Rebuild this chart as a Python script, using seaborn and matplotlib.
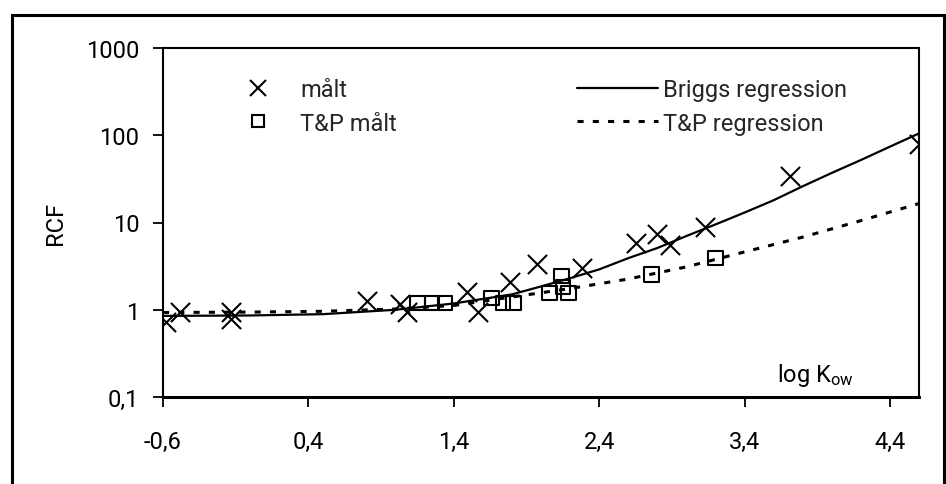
import matplotlib
matplotlib.use("Agg")
import matplotlib.pyplot as plt
import seaborn as sns
import numpy as np
import pandas as pd
from matplotlib.lines import Line2D
from matplotlib.patches import Rectangle
from matplotlib.ticker import FixedLocator, FuncFormatter, NullLocator

# ---- data ----
maalt_x = [-0.58, -0.48, -0.13, -0.13, 0.80, 1.03, 1.08, 1.49, 1.57, 1.79, 1.97,
           2.28, 2.65, 2.80, 2.89, 3.13, 3.71, 4.60]
maalt_y = [0.73, 0.95, 0.93, 0.78, 1.27, 1.17, 0.95, 1.61, 0.95, 2.09, 3.35,
           3.0, 5.8, 7.4, 5.5, 8.9, 34.0, 80.0]

tp_maalt_x = [1.15, 1.25, 1.34, 1.66, 1.74, 1.81, 2.06, 2.14, 2.15, 2.19, 2.76, 3.20]
tp_maalt_y = [1.20, 1.20, 1.20, 1.37, 1.20, 1.20, 1.55, 2.45, 1.83, 1.55, 2.55, 3.9]

briggs_x = [-0.6, 0.0, 0.5, 1.0, 1.4, 1.8, 2.0, 2.2, 2.4, 2.6, 2.8, 3.0, 3.2,
            3.4, 3.6, 3.8, 4.0, 4.2, 4.4, 4.6]
briggs_y = [0.85, 0.86, 0.89, 1.0, 1.18, 1.5, 1.85, 2.3, 2.9, 3.9, 5.1, 7.0, 9.5,
            13.0, 18.0, 26.0, 37.0, 52.0, 74.0, 105.0]

tp_reg_x = [-0.6, 0.0, 0.5, 1.0, 1.4, 1.8, 2.2, 2.6, 3.0, 3.4, 3.8, 4.2, 4.6]
tp_reg_y = [0.93, 0.94, 0.96, 1.02, 1.12, 1.4, 1.75, 2.25, 3.1, 4.6, 6.8, 10.5, 16.5]

x_ticks = [-0.6, 0.4, 1.4, 2.4, 3.4, 4.4]
y_ticks = [0.1, 1, 10, 100, 1000]
y_tick_labels = ["0,1", "1", "10", "100", "1000"]

labels = ["målt", "T&P målt", "Briggs regression", "T&P regression"]

# ---- style ----
sns.set_theme(style="white")
plt.rcParams["font.family"] = ["Roboto", "DejaVu Sans"]
plt.rcParams["mathtext.default"] = "regular"
plt.rcParams["mathtext.fontset"] = "custom"
plt.rcParams["mathtext.rm"] = "Roboto"
FS = 17

fig = plt.figure(figsize=(9.46, 4.85), dpi=100)
ax = fig.add_axes([163/946, 1-398/485, (919-163)/946, (398-49)/485])

df_m = pd.DataFrame({"x": maalt_x, "y": maalt_y})
df_t = pd.DataFrame({"x": tp_maalt_x, "y": tp_maalt_y})
df_b = pd.DataFrame({"x": briggs_x, "y": briggs_y})
df_r = pd.DataFrame({"x": tp_reg_x, "y": tp_reg_y})

sns.lineplot(data=df_b, x="x", y="y", ax=ax, color="black", lw=1.6,
             estimator=None, sort=False, zorder=2)
sns.lineplot(data=df_r, x="x", y="y", ax=ax, color="black", lw=2.2,
             linestyle=(0, (2, 3)), estimator=None, sort=False, zorder=2)
sns.scatterplot(data=df_m, x="x", y="y", ax=ax, marker="x", s=190,
                color="black", linewidth=1.5, zorder=3)
sns.scatterplot(data=df_t, x="x", y="y", ax=ax, marker="s", s=110,
                facecolor="none", edgecolor="black", linewidth=1.5, zorder=3)

ax.set_yscale("log")
ax.set_xlim(-0.6, 4.6)
ax.set_ylim(0.1, 1000)
ax.xaxis.set_major_locator(FixedLocator(x_ticks))
ax.xaxis.set_major_formatter(FuncFormatter(lambda v, p: f"{v:.1f}".replace(".", ",")))
ax.yaxis.set_major_locator(FixedLocator(y_ticks))
ax.set_yticklabels(y_tick_labels)
ax.yaxis.set_minor_locator(NullLocator())
ax.tick_params(axis="both", direction="out", length=7, width=1.3, color="black",
               labelsize=FS, labelcolor="black", bottom=True, left=True)
ax.tick_params(axis="x", pad=17)
ax.tick_params(axis="y", pad=10)
for s in ax.spines.values():
    s.set_visible(True)
    s.set_color("black")
    s.set_linewidth(1.5)
ax.spines["bottom"].set_linewidth(2.2)

ax.set_xlabel("")
ax.set_ylabel("RCF", fontsize=FS, color="black", labelpad=14)

ax.text(0.812, 0.065, r"log K$_{ow}$", transform=ax.transAxes, fontsize=FS,
        ha="left", va="center", color="black")

h_marks = [
    Line2D([], [], marker="x", color="black", linestyle="none", markersize=12, markeredgewidth=1.5),
    Line2D([], [], marker="s", markerfacecolor="none", markeredgecolor="black", color="black",
           linestyle="none", markersize=9, markeredgewidth=1.5),
]
h_lines = [
    Line2D([], [], color="black", lw=1.6),
    Line2D([], [], color="black", lw=2.2, linestyle=(0, (2, 3))),
]
common = dict(frameon=False, fontsize=FS, handlelength=81/(FS*100/72),
              labelspacing=0.45, borderpad=0, borderaxespad=0,
              loc="upper left", bbox_transform=fig.transFigure)
leg1 = ax.legend(h_marks, labels[:2], handletextpad=0.08,
                 bbox_to_anchor=(217/946, 1-79/485), **common)
ax.add_artist(leg1)
leg2 = ax.legend(h_lines, labels[2:], handletextpad=0.2,
                 bbox_to_anchor=(577/946, 1-79/485), **common)

# outer frame around the figure (bottom edge outside the picture)
fig.patches.append(Rectangle((12/946, -0.2), (944-12)/946, 1.2-16/485,
                             transform=fig.transFigure, fill=False,
                             edgecolor="black", linewidth=2.2))

fig.savefig("out.png", dpi=100)
